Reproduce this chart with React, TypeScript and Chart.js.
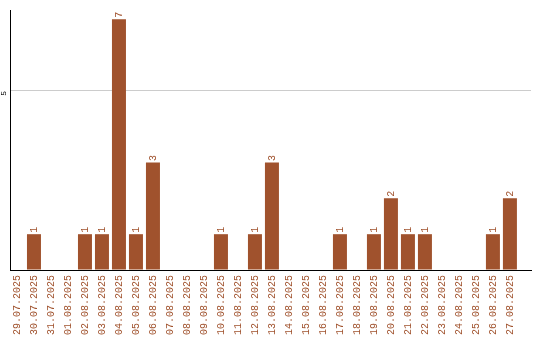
import React, { useEffect, useRef } from "react";
import { Chart, registerables } from "chart.js";

Chart.register(...registerables);

const dates: string[] = [
  "29.07.2025", "30.07.2025", "31.07.2025", "01.08.2025", "02.08.2025",
  "03.08.2025", "04.08.2025", "05.08.2025", "06.08.2025", "07.08.2025",
  "08.08.2025", "09.08.2025", "10.08.2025", "11.08.2025", "12.08.2025",
  "13.08.2025", "14.08.2025", "15.08.2025", "16.08.2025", "17.08.2025",
  "18.08.2025", "19.08.2025", "20.08.2025", "21.08.2025", "22.08.2025",
  "23.08.2025", "24.08.2025", "25.08.2025", "26.08.2025", "27.08.2025",
];

const counts: number[] = [
  0, 1, 0, 0, 1, 1, 7, 1, 3, 0,
  0, 0, 1, 0, 1, 3, 0, 0, 0, 1,
  0, 1, 2, 1, 1, 0, 0, 0, 1, 2,
];

const yTicks: number[] = [0, 5];

const COLOR = "#A0522D";
const FONT = "'Liberation Mono', 'DejaVu Sans Mono', monospace";

const valueLabels = {
  id: "valueLabels",
  afterDatasetsDraw(chart: any) {
    const ctx = chart.ctx;
    const meta = chart.getDatasetMeta(0);
    ctx.save();
    ctx.fillStyle = COLOR;
    ctx.font = `10px ${FONT}`;
    ctx.textAlign = "left";
    ctx.textBaseline = "middle";
    meta.data.forEach((el: any, i: number) => {
      const v = counts[i];
      if (!v) return;
      ctx.save();
      ctx.translate(el.x, el.y - 1.5);
      ctx.rotate(-Math.PI / 2);
      ctx.fillText(String(v), 0, 0);
      ctx.restore();
    });
    ctx.restore();
  },
};

export default function App() {
  const ref = useRef<HTMLCanvasElement | null>(null);

  useEffect(() => {
    if (!ref.current) return;
    const chart = new Chart(ref.current, {
      type: "bar",
      data: {
        datasets: [
          {
            data: counts.map((v, i) => ({ x: i, y: v })),
            backgroundColor: COLOR,
            borderWidth: 0,
            categoryPercentage: 1,
            barPercentage: 14 / 17,
          },
        ],
      },
      options: {
        animation: false,
        responsive: true,
        maintainAspectRatio: false,
        layout: { padding: { top: 10, right: 9, left: 0, bottom: 0 } },
        plugins: {
          legend: { display: false },
          tooltip: { enabled: false },
        },
        scales: {
          x: {
            type: "linear",
            offset: false,
            min: -0.41,
            max: 30.24,
            grid: { display: false, drawTicks: false, offset: false },
            border: { display: true, color: "#000", width: 1 },
            afterBuildTicks: (scale: any) => {
              scale.ticks = dates.map((_, i) => ({ value: i }));
            },
            afterFit: (scale: any) => {
              scale.height = 70;
              scale.paddingLeft = 0;
              scale.paddingRight = 0;
            },
            ticks: {
              autoSkip: false,
              minRotation: 90,
              maxRotation: 90,
              padding: 5,
              color: COLOR,
              font: { family: FONT, size: 10 },
              callback: (_v: any, index: number) => dates[index],
            },
          },
          y: {
            min: 0,
            max: 7.26,
            grid: { display: true, color: "#cccccc", drawTicks: false },
            border: { display: true, color: "#000", width: 1 },
            afterBuildTicks: (scale: any) => {
              scale.ticks = yTicks.map((v) => ({ value: v }));
            },
            afterFit: (scale: any) => {
              scale.width = 10;
              scale.paddingTop = 0;
              scale.paddingBottom = 0;
            },
            ticks: {
              minRotation: 90,
              maxRotation: 90,
              crossAlign: "near",
              padding: 6,
              color: "#000",
              font: { family: FONT, size: 8 },
              callback: (v: any) => (v === 0 ? "" : String(v)),
            },
          },
        },
      },
      plugins: [valueLabels],
    });
    return () => chart.destroy();
  }, []);

  return (
    <div style={{ position: "fixed", left: 0, top: 0, width: 540, height: 340, background: "#fff" }}>
      <canvas ref={ref} />
    </div>
  );
}
